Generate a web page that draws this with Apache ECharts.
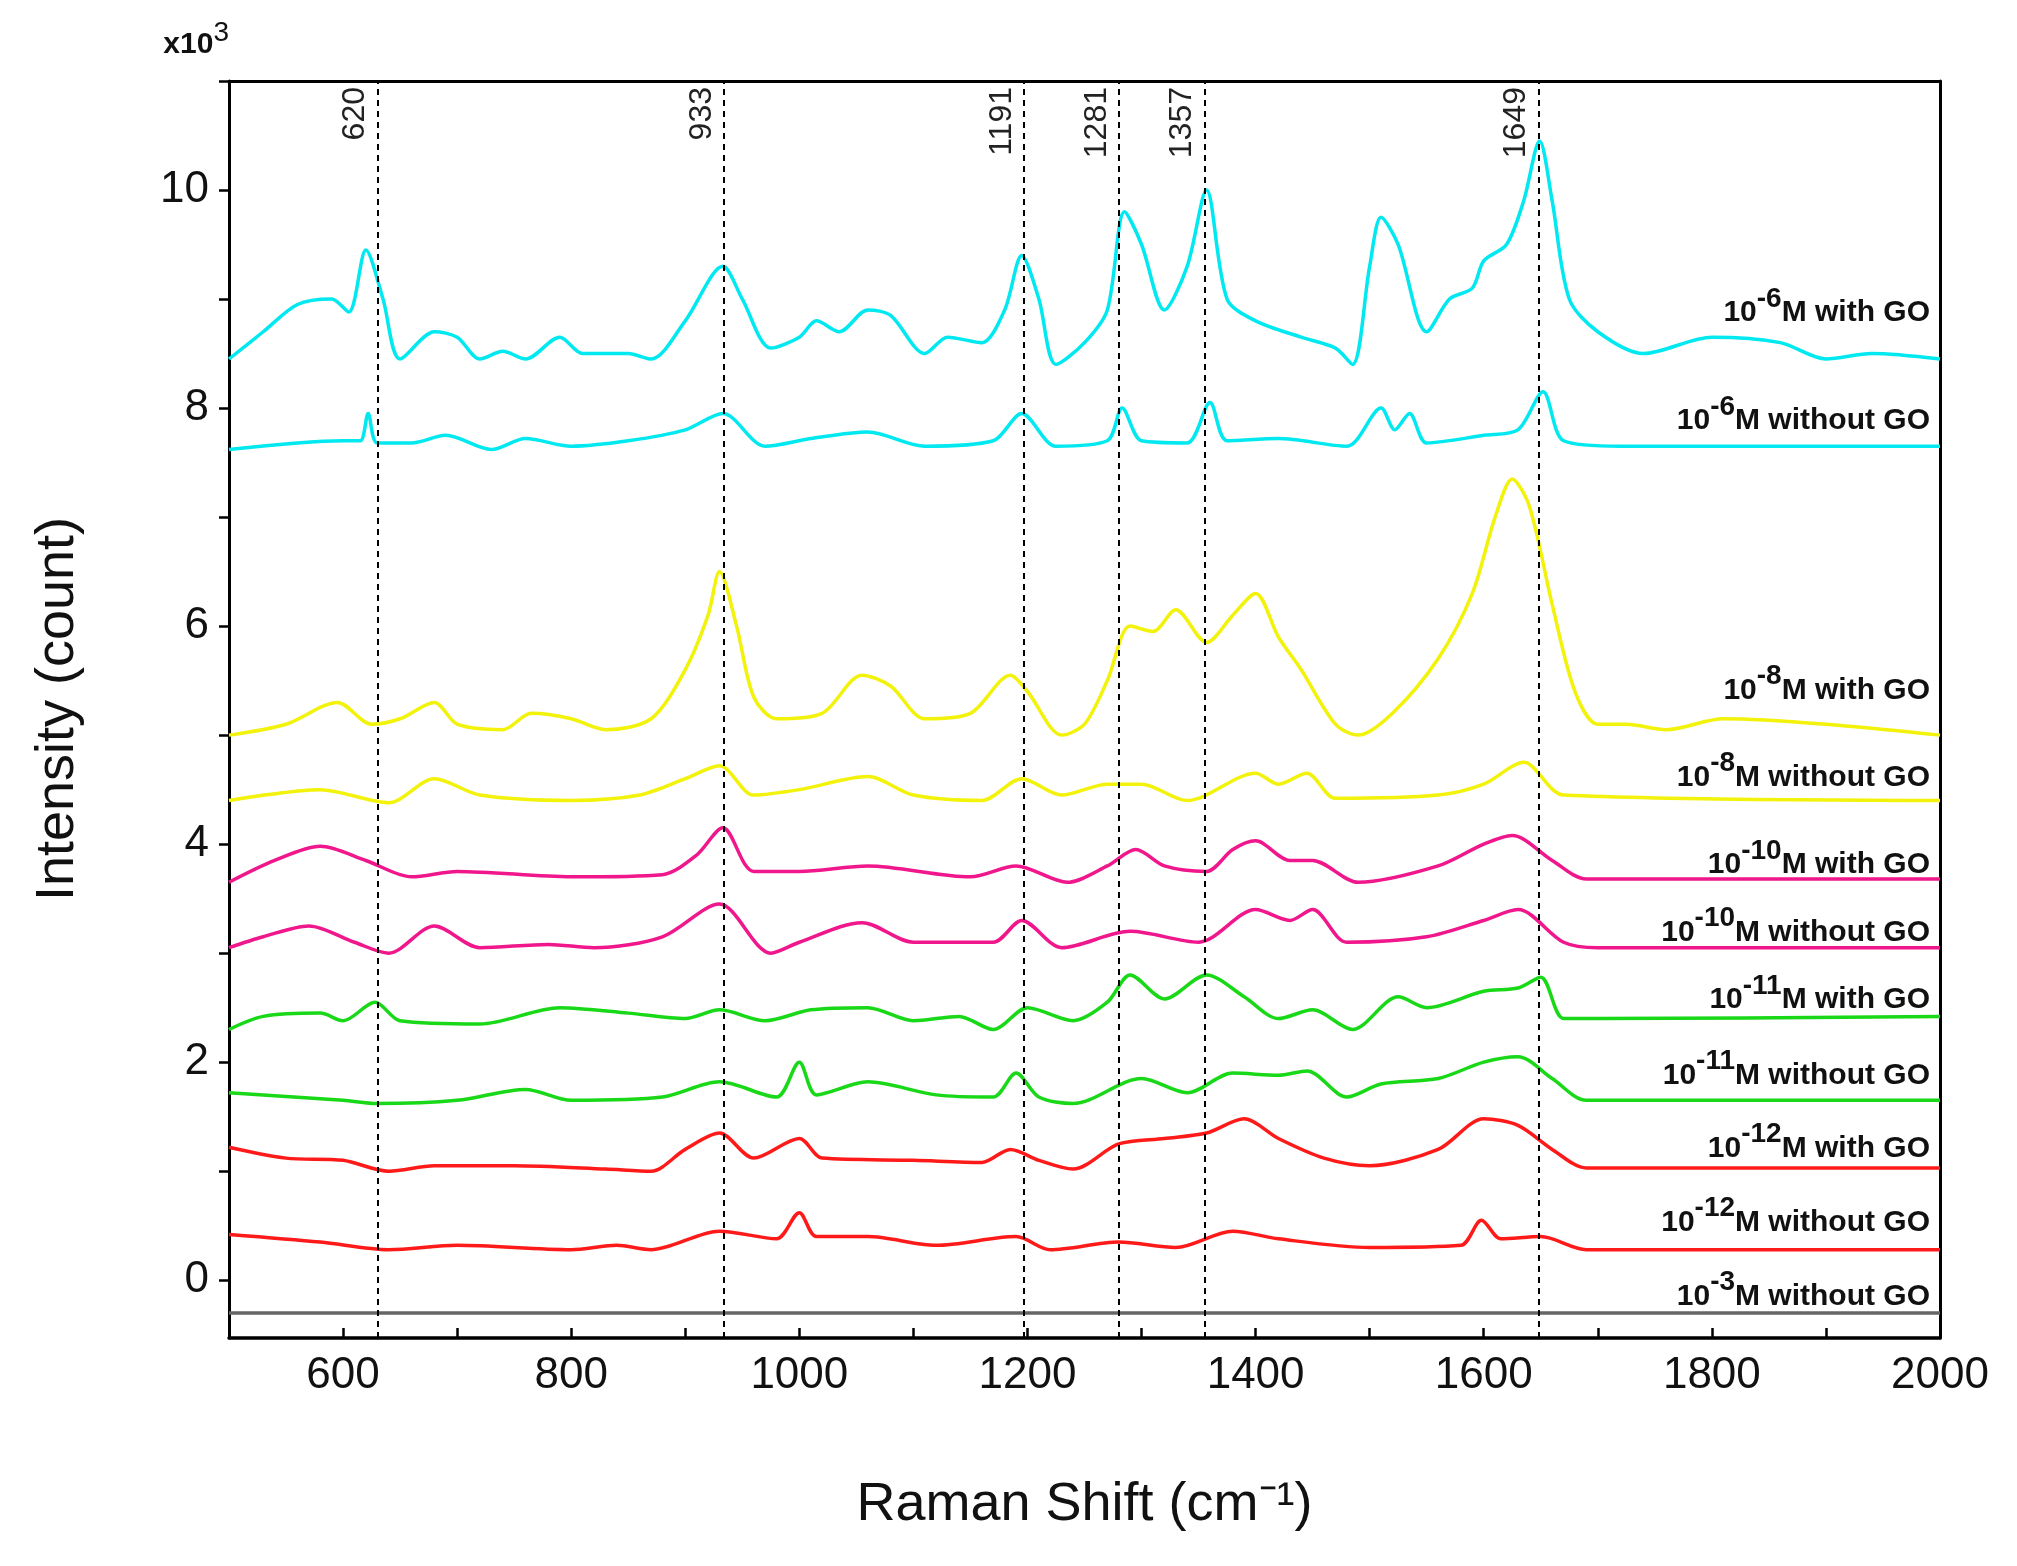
<!DOCTYPE html>
<html>
<head>
    <meta charset="utf-8">
</head>
<body style="margin: 0">
    <div id="main" style="width: 2017px; height: 1566px"></div>
    <script src="https://cdn.jsdelivr.net/npm/echarts@6/dist/echarts.min.js"></script>
    <script>
        // spectra as [shift, intensity x10^3]
        var m6With = [[500,8.45],[530,8.7],[560,8.95],[590,9.0],[605,8.88],[620,9.45],[635,9.0],[650,8.45],[680,8.7],[700,8.65],[720,8.45],[740,8.52],[760,8.45],[790,8.65],[810,8.5],[850,8.5],[870,8.45],[900,8.8],[933,9.3],[950,9.0],[975,8.55],[1000,8.65],[1015,8.8],[1035,8.7],[1060,8.9],[1080,8.85],[1110,8.5],[1130,8.65],[1160,8.6],[1180,8.9],[1195,9.4],[1210,9.0],[1225,8.4],[1250,8.6],[1270,8.9],[1285,9.8],[1300,9.5],[1320,8.9],[1340,9.3],[1357,10.0],[1375,9.0],[1400,8.8],[1440,8.65],[1470,8.55],[1485,8.4],[1500,9.3],[1510,9.75],[1525,9.5],[1550,8.7],[1570,9.0],[1590,9.1],[1600,9.35],[1620,9.5],[1635,9.9],[1649,10.45],[1660,9.9],[1675,9.0],[1700,8.7],[1740,8.5],[1800,8.65],[1860,8.6],[1900,8.45],[1940,8.5],[2000,8.45]];
        var m6Without = [[500,7.62],[600,7.7],[615,7.7],[622,7.95],[630,7.68],[660,7.68],[690,7.75],[730,7.62],[760,7.72],[800,7.65],[850,7.7],[900,7.8],[933,7.95],[970,7.65],[1010,7.72],[1060,7.78],[1110,7.65],[1170,7.7],[1195,7.95],[1225,7.65],[1270,7.7],[1283,8.0],[1300,7.7],[1340,7.68],[1360,8.05],[1375,7.7],[1420,7.72],[1480,7.65],[1510,8.0],[1522,7.8],[1535,7.95],[1550,7.68],[1600,7.75],[1630,7.8],[1652,8.15],[1670,7.7],[1720,7.65],[2000,7.65]];
        var m8With = [[500,5.0],[550,5.1],[595,5.3],[625,5.1],[650,5.15],[680,5.3],[700,5.1],[740,5.05],[765,5.2],[800,5.15],[830,5.05],[870,5.15],[900,5.6],[920,6.1],[930,6.5],[945,6.0],[960,5.35],[980,5.15],[1020,5.2],[1055,5.55],[1080,5.45],[1110,5.15],[1150,5.2],[1185,5.55],[1200,5.4],[1230,5.0],[1250,5.1],[1270,5.5],[1290,6.0],[1310,5.95],[1330,6.15],[1357,5.85],[1380,6.1],[1400,6.3],[1420,5.9],[1440,5.6],[1470,5.1],[1490,5.0],[1520,5.2],[1560,5.7],[1590,6.3],[1610,7.0],[1625,7.35],[1640,7.1],[1660,6.2],[1680,5.4],[1700,5.1],[1725,5.1],[1760,5.05],[1810,5.15],[1900,5.1],[2000,5.0]];
        var m8Without = [[500,4.4],[580,4.5],[640,4.38],[680,4.6],[720,4.45],[800,4.4],[860,4.45],[900,4.6],[930,4.72],[960,4.45],[1000,4.5],[1060,4.62],[1100,4.45],[1160,4.4],[1195,4.6],[1230,4.45],[1270,4.55],[1300,4.55],[1340,4.4],[1400,4.65],[1420,4.55],[1445,4.65],[1470,4.42],[1560,4.45],[1600,4.55],[1635,4.75],[1670,4.45],[2000,4.4]];
        var m10With = [[500,3.65],[540,3.85],[580,3.98],[620,3.85],[660,3.7],[700,3.75],[800,3.7],[880,3.72],[910,3.9],[933,4.15],[960,3.75],[1000,3.75],[1060,3.8],[1150,3.7],[1190,3.8],[1235,3.65],[1270,3.8],[1295,3.95],[1320,3.8],[1357,3.75],[1380,3.95],[1400,4.03],[1430,3.85],[1450,3.85],[1490,3.65],[1560,3.8],[1600,4.0],[1625,4.08],[1660,3.85],[1690,3.68],[2000,3.68]];
        var m10Without = [[500,3.05],[530,3.15],[570,3.25],[610,3.1],[640,3.0],[680,3.25],[720,3.05],[780,3.08],[820,3.05],[880,3.15],[930,3.45],[975,3.0],[1000,3.1],[1055,3.28],[1100,3.1],[1170,3.1],[1195,3.3],[1230,3.05],[1290,3.2],[1350,3.1],[1400,3.4],[1430,3.3],[1450,3.4],[1480,3.1],[1550,3.15],[1600,3.3],[1630,3.4],[1670,3.1],[1700,3.05],[2000,3.05]];
        var m11With = [[500,2.3],[530,2.42],[580,2.45],[600,2.38],[628,2.55],[650,2.38],[720,2.35],[790,2.5],[850,2.45],[900,2.4],[930,2.48],[970,2.38],[1010,2.48],[1060,2.5],[1100,2.38],[1140,2.42],[1170,2.3],[1200,2.5],[1240,2.38],[1270,2.55],[1290,2.8],[1320,2.58],[1357,2.8],[1390,2.6],[1420,2.4],[1450,2.48],[1485,2.3],[1525,2.6],[1550,2.5],[1600,2.65],[1630,2.68],[1650,2.78],[1670,2.4],[1700,2.4],[2000,2.42]];
        var m11Without = [[500,1.72],[600,1.65],[630,1.62],[700,1.65],[760,1.75],[800,1.65],[880,1.68],[930,1.82],[980,1.68],[1000,2.0],[1015,1.7],[1060,1.82],[1120,1.7],[1170,1.68],[1190,1.9],[1210,1.68],[1240,1.62],[1300,1.85],[1340,1.72],[1380,1.9],[1420,1.88],[1445,1.92],[1480,1.68],[1510,1.8],[1560,1.85],[1600,2.0],[1630,2.05],[1660,1.85],[1690,1.65],[2000,1.65]];
        var m12With = [[500,1.22],[550,1.12],[600,1.1],[640,1.0],[680,1.05],[750,1.05],[830,1.02],[870,1.0],[900,1.2],[930,1.35],[960,1.12],[1000,1.3],[1020,1.12],[1100,1.1],[1160,1.08],[1185,1.2],[1210,1.1],[1240,1.02],[1280,1.25],[1320,1.3],[1357,1.35],[1390,1.48],[1420,1.3],[1460,1.12],[1500,1.05],[1560,1.2],[1600,1.48],[1630,1.42],[1660,1.2],[1690,1.03],[2000,1.03]];
        var m12Without = [[500,0.42],[580,0.35],[640,0.28],[700,0.32],[800,0.28],[840,0.32],[870,0.28],[930,0.45],[980,0.38],[1000,0.62],[1015,0.4],[1060,0.4],[1120,0.32],[1190,0.4],[1220,0.28],[1280,0.35],[1330,0.3],[1380,0.45],[1420,0.38],[1500,0.3],[1580,0.32],[1598,0.55],[1615,0.38],[1650,0.4],[1690,0.28],[2000,0.28]];
        var m3Without = [[500,-0.3],[2000,-0.3]];

        var peakPos = [630, 934, 1197, 1280, 1355, 1648];
        var peakText = ['620', '933', '1191', '1281', '1357', '1649'];

        var xLabels = [600, 800, 1000, 1200, 1400, 1600, 1800, 2000];
        var xTicks = [500, 600, 700, 800, 900, 1000, 1100, 1200, 1300, 1400, 1500, 1600, 1700, 1800, 1900, 2000];
        var yLabels = [0, 2, 4, 6, 8, 10];
        var yTicks = [0, 1, 2, 3, 4, 5, 6, 7, 8, 9, 10, 11];

        var series = [
            { d: m6With, c: '#00e8f0', exp: '-6', txt: 'M with GO', ly: 8.87 },
            { d: m6Without, c: '#00e8f0', exp: '-6', txt: 'M without GO', ly: 7.88 },
            { d: m8With, c: '#f2f20a', exp: '-8', txt: 'M with GO', ly: 5.41 },
            { d: m8Without, c: '#f2f20a', exp: '-8', txt: 'M without GO', ly: 4.61 },
            { d: m10With, c: '#f0168c', exp: '-10', txt: 'M with GO', ly: 3.81 },
            { d: m10Without, c: '#f0168c', exp: '-10', txt: 'M without GO', ly: 3.19 },
            { d: m11With, c: '#18d818', exp: '-11', txt: 'M with GO', ly: 2.57 },
            { d: m11Without, c: '#18d818', exp: '-11', txt: 'M without GO', ly: 1.88 },
            { d: m12With, c: '#ff1a1a', exp: '-12', txt: 'M with GO', ly: 1.21 },
            { d: m12Without, c: '#ff1a1a', exp: '-12', txt: 'M without GO', ly: 0.53 },
            { d: m3Without, c: '#666666', exp: '-3', txt: 'M without GO', ly: -0.15 }
        ];

        var font = 'Arial, "Liberation Sans", sans-serif';
        var chart = echarts.init(document.getElementById('main'));

        var seriesList = series.map(function (s) {
            return {
                type: 'line', data: s.d, smooth: 0.3, showSymbol: false, silent: true,
                lineStyle: { color: s.c, width: 3.5 }
            };
        });
        seriesList.push({
            type: 'line', data: [], silent: true,
            markLine: {
                symbol: 'none', silent: true,
                lineStyle: { color: '#000', type: [6, 5], width: 2 },
                label: {
                    position: 'insideEndTop', distance: 6, fontSize: 32, color: '#222', fontFamily: font,
                    formatter: function (p) { return peakText[p.dataIndex]; }
                },
                data: peakPos.map(function (x) { return { xAxis: x }; })
            }
        });

        chart.setOption({
            animation: false,
            backgroundColor: '#fff',
            grid: { left: 229, right: 77, top: 81, bottom: 228 },
            xAxis: [{
                type: 'value', min: 500, max: 2000,
                name: 'Raman Shift (cm⁻¹)', nameLocation: 'middle', nameGap: 140,
                nameTextStyle: { fontSize: 54, fontFamily: font, color: '#111' },
                axisLine: { onZero: false, lineStyle: { color: '#000', width: 3.5 } },
                axisTick: { inside: true, length: 10, customValues: xTicks, lineStyle: { width: 2.5, color: '#000' } },
                axisLabel: {
                    customValues: xLabels, fontSize: 44, fontFamily: font, color: '#111', margin: 16,
                    formatter: function (v) { return String(v); }
                },
                splitLine: { show: false }
            }, {
                type: 'value', min: 500, max: 2000, position: 'top',
                axisLine: { onZero: false, lineStyle: { color: '#000', width: 3 } },
                axisTick: { show: false }, axisLabel: { show: false }, splitLine: { show: false }
            }],
            yAxis: [{
                type: 'value', min: -0.53, max: 11,
                name: '{a|x10}{s|3}', nameLocation: 'end', nameGap: 10,
                nameTextStyle: {
                    align: 'right',
                    rich: {
                        a: { fontSize: 30, fontWeight: 'bold', fontFamily: font, color: '#111' },
                        s: { fontSize: 28, fontFamily: font, color: '#111', padding: [0, 0, 24, 0] }
                    }
                },
                axisLine: { show: true, lineStyle: { color: '#000', width: 3 } },
                axisTick: { show: true, length: 10, customValues: yTicks, lineStyle: { width: 2.5, color: '#000' } },
                axisLabel: { customValues: yLabels, fontSize: 44, fontFamily: font, color: '#111', margin: 20 },
                splitLine: { show: false }
            }, {
                type: 'value', min: -0.53, max: 11, position: 'right',
                axisLine: { show: true, lineStyle: { color: '#000', width: 3 } },
                axisTick: { show: false }, axisLabel: { show: false }, splitLine: { show: false }
            }],
            series: seriesList
        });

        // series captions at the right end, placed through the axes; y axis title
        var graphics = series.map(function (s) {
            var p = chart.convertToPixel({ gridIndex: 0 }, [2000, s.ly]);
            return {
                type: 'text', x: p[0] - 10, y: p[1], silent: true,
                style: {
                    text: '{b|10}{s|' + s.exp + '}{b|' + s.txt + '}',
                    align: 'right', verticalAlign: 'middle',
                    rich: {
                        b: { fontSize: 30, fontWeight: 'bold', fontFamily: font, fill: '#111' },
                        s: { fontSize: 28, fontWeight: 'bold', fontFamily: font, fill: '#111', padding: [0, 0, 28, 0] }
                    }
                }
            };
        });
        graphics.push({
            type: 'text', x: 58, y: 709, rotation: Math.PI / 2, silent: true,
            style: { text: 'Intensity (count)', fontSize: 54, fontFamily: font, fill: '#111', align: 'center', verticalAlign: 'middle' }
        });
        chart.setOption({ graphic: graphics });
    </script>
</body>
</html>
